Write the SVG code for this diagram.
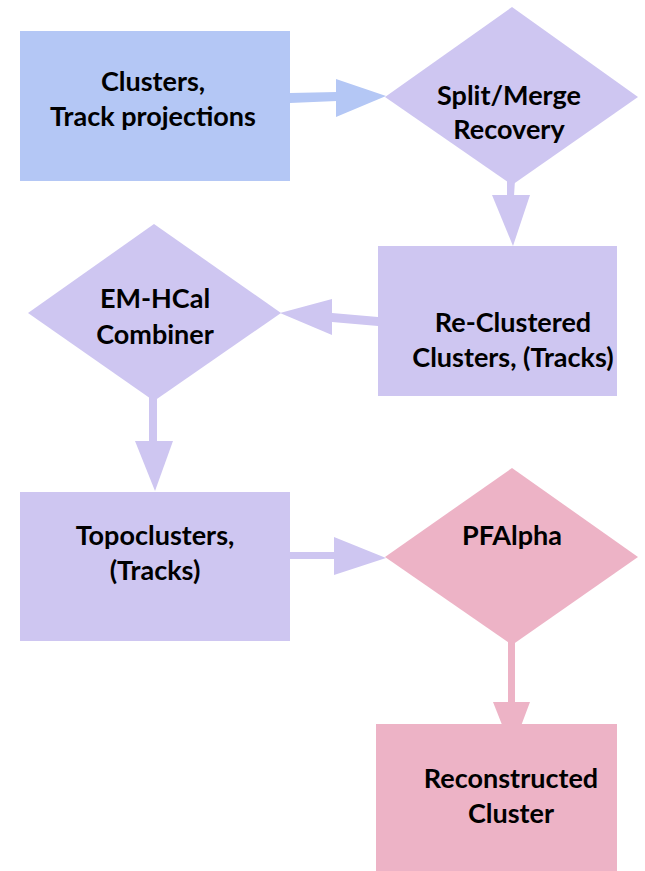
<svg xmlns="http://www.w3.org/2000/svg" width="645" height="871" viewBox="0 0 645 871">
  <style>
    .blue { fill: #b4c7f5; }
    .lav { fill: #cec6f1; }
    .pink { fill: #edb3c6; }
    text { font-family: Lato, "Open Sans", "Liberation Sans", sans-serif; font-weight: bold; font-size: 27px; fill: #000; text-anchor: middle; }
  </style>
  <rect width="645" height="871" fill="#ffffff"/>

  <!-- connectors: drawn first so node shapes sit on top of arrow tips -->
  <g id="connectors">
    <g class="blue">
      <polygon points="290,93 337,92 337,101 290,103"/>
      <polygon points="336,79 386,96 336,117"/>
    </g>
    <g class="lav">
      <polygon points="507,180 515,180 514,196 507,196"/>
      <polygon points="492,195 530,195 513,246"/>
      <polygon points="378,317 332,313 332,322 378,326"/>
      <polygon points="332,299 280,313 332,335"/>
      <polygon points="149,395 157,395 157,442 149,442"/>
      <polygon points="135,441 173,441 155,491"/>
      <polygon points="290,552 335,552 335,559 290,559"/>
      <polygon points="334,537 386,558 334,575"/>
    </g>
    <g class="pink">
      <polygon points="508,640 515,640 515,703 508,703"/>
      <polygon points="493,702 530,702 512,750"/>
    </g>
  </g>

  <g id="clusters-input">
    <rect class="blue" x="20" y="31" width="270" height="150"/>
    <text x="153" y="91">Clusters,</text>
    <text x="153" y="126">Track projections</text>
  </g>

  <g id="split-merge">
    <polygon class="lav" points="512,7 638,97 512,185 385,97"/>
    <text x="509" y="105">Split/Merge</text>
    <text x="509" y="139">Recovery</text>
  </g>

  <g id="re-clustered">
    <rect class="lav" x="378" y="246" width="239" height="150"/>
    <text x="513" y="332">Re-Clustered</text>
    <text x="513" y="367">Clusters, (Tracks)</text>
  </g>

  <g id="em-hcal">
    <polygon class="lav" points="154,224 281,313 154,401 28,313"/>
    <text x="155" y="308">EM-HCal</text>
    <text x="155" y="344">Combiner</text>
  </g>

  <g id="topoclusters">
    <rect class="lav" x="20" y="492" width="270" height="149"/>
    <text x="155" y="545">Topoclusters,</text>
    <text x="155" y="580">(Tracks)</text>
  </g>

  <g id="pfalpha">
    <polygon class="pink" points="512,468 638,557 512,645 385,557"/>
    <text x="512" y="545">PFAlpha</text>
  </g>

  <g id="reconstructed">
    <rect class="pink" x="376" y="724" width="241" height="147"/>
    <text x="511" y="788">Reconstructed</text>
    <text x="511" y="823">Cluster</text>
  </g>
</svg>
